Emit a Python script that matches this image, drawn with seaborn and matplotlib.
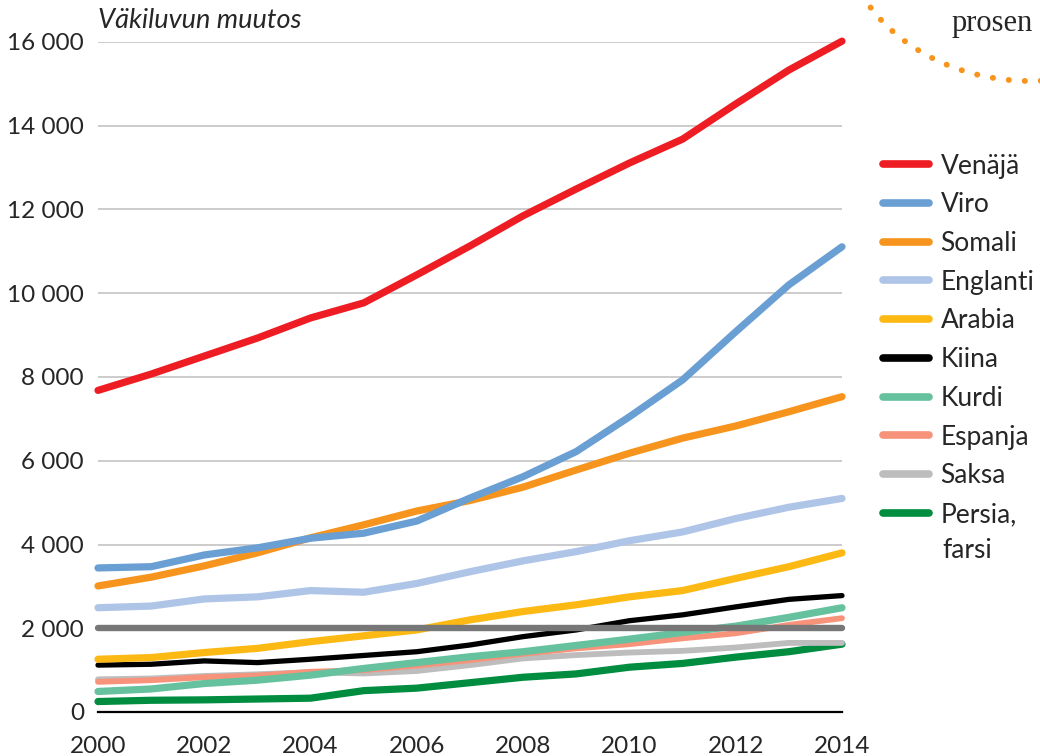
import numpy as np
import pandas as pd
import matplotlib
matplotlib.use("Agg")
import matplotlib.pyplot as plt
import seaborn as sns
from matplotlib.lines import Line2D

# data
years = list(range(2000, 2015))
languages = ["Venäjä", "Viro", "Somali", "Englanti", "Arabia", "Kiina",
             "Kurdi", "Espanja", "Saksa", "Persia, farsi"]

venaja = [7680, 8070, 8500, 8930, 9410, 9770, 10440, 11130, 11850, 12490, 13110, 13680, 14520, 15330, 16020]
viro = [3440, 3470, 3750, 3920, 4150, 4270, 4560, 5110, 5620, 6220, 7050, 7930, 9080, 10200, 11110]
somali = [3010, 3220, 3490, 3800, 4160, 4470, 4800, 5050, 5370, 5780, 6180, 6540, 6830, 7170, 7530]
englanti = [2490, 2530, 2700, 2750, 2900, 2860, 3070, 3350, 3610, 3830, 4090, 4300, 4620, 4890, 5100]
arabia = [1260, 1300, 1420, 1520, 1680, 1820, 1960, 2200, 2400, 2560, 2750, 2900, 3190, 3470, 3800]
kiina = [1120, 1140, 1220, 1180, 1260, 1350, 1440, 1600, 1800, 1960, 2180, 2320, 2510, 2690, 2780]
kurdi = [490, 550, 680, 760, 880, 1040, 1180, 1320, 1440, 1590, 1740, 1900, 2050, 2260, 2490]
espanja = [720, 760, 830, 870, 960, 1000, 1110, 1240, 1390, 1520, 1620, 1760, 1880, 2080, 2240]
saksa = [780, 800, 860, 900, 950, 920, 980, 1120, 1280, 1360, 1420, 1460, 1540, 1650, 1650]
persia = [250, 280, 290, 310, 330, 510, 570, 700, 830, 910, 1070, 1160, 1310, 1440, 1620]
raja = [2000] * len(years)  # grey reference line

series = [venaja, viro, somali, englanti, arabia, kiina, kurdi, espanja, saksa, persia]
colors = ["#EE1D23", "#6A9FD4", "#F7941D", "#AEC5E8", "#FDB913", "#000000",
          "#66C29E", "#F7937A", "#BDBDBD", "#008D40"]
widths = [5.2, 5.2, 5.2, 5.2, 5.2, 3.8, 5.2, 4.2, 4.2, 5.2]

df = pd.DataFrame({"vuosi": years * len(languages),
                   "kieli": np.repeat(languages, len(years)),
                   "muutos": np.concatenate(series)})

sns.set_style("white")
plt.rcParams["font.family"] = ["Lato", "DejaVu Sans"]

fig = plt.figure(figsize=(10.4, 7.56), dpi=100)
ax = fig.add_axes([98 / 1040, 1 - 712 / 756, (842 - 98) / 1040, (712 - 42) / 756])

# draw order: bottom series first, Viro above Somali
order = [9, 8, 7, 6, 5, 4, 3, 2, 1, 0]
for i in order:
    sub = df[df["kieli"] == languages[i]]
    sns.lineplot(data=sub, x="vuosi", y="muutos", color=colors[i], lw=widths[i],
                 ax=ax, legend=False, solid_capstyle="round", solid_joinstyle="round",
                 clip_on=False, zorder=3 + order.index(i))

sns.lineplot(x=years, y=raja, color="#777777", lw=4.6, ax=ax, legend=False,
             solid_capstyle="round", clip_on=False, zorder=20)

ax.set_xlim(2000, 2014)
ax.set_ylim(0, 16000)
ax.set_xlabel("")
ax.set_ylabel("")
ax.set_yticks(range(0, 16001, 2000))
ax.set_yticklabels([f"{v:,}".replace(",", " ") for v in range(0, 16001, 2000)])
ax.set_xticks(years, minor=True)
ax.set_xticks(range(2000, 2015, 2))
ax.tick_params(axis="y", length=0, pad=10, labelsize=17.5)
ax.tick_params(axis="x", which="both", direction="out", length=10, width=1.2,
               color="black", labelsize=17.5, pad=7)
ax.yaxis.grid(True, color="#C4C4C4", lw=1.2)
ax.set_axisbelow(True)
for s in ["top", "right", "left"]:
    ax.spines[s].set_visible(False)
ax.spines["bottom"].set_color("black")
ax.spines["bottom"].set_linewidth(1.6)

fig.text(98 / 1040, 1 - 28 / 756, "Väkiluvun muutos", fontsize=19.5,
         style="italic", ha="left", va="baseline")

# legend
handles = [Line2D([0], [0], color=c, lw=5.5, solid_capstyle="round") for c in colors]
labels = languages[:-1] + ["Persia,"]
leg = fig.legend(handles, labels, loc="upper left", bbox_to_anchor=(872 / 1040, 1 - 143 / 756),
                 frameon=False, fontsize=19, handlelength=1.75, handletextpad=0.45,
                 labelspacing=0.52, borderaxespad=0)
fig.text(942 / 1040, 1 - 551 / 756, "farsi", fontsize=19, ha="left", va="center")

# dotted arc and clipped word in the top-right corner
over = fig.add_axes([0, 0, 1, 1], zorder=-1)
over.set_xlim(0, 1040)
over.set_ylim(756, 0)
over.axis("off")
t = np.radians(np.linspace(86, 150, 200))
over.plot(1030 + 190 * np.cos(t), -80 + 161 * np.sin(t), color="#F7941D", lw=4.2,
          ls=(0, (0.05, 2.7)), dash_capstyle="round")
over.text(952, 31, "prosen", fontsize=22, family=["Liberation Serif", "DejaVu Serif"],
          ha="left", va="baseline")

fig.savefig("out.png", dpi=100)
